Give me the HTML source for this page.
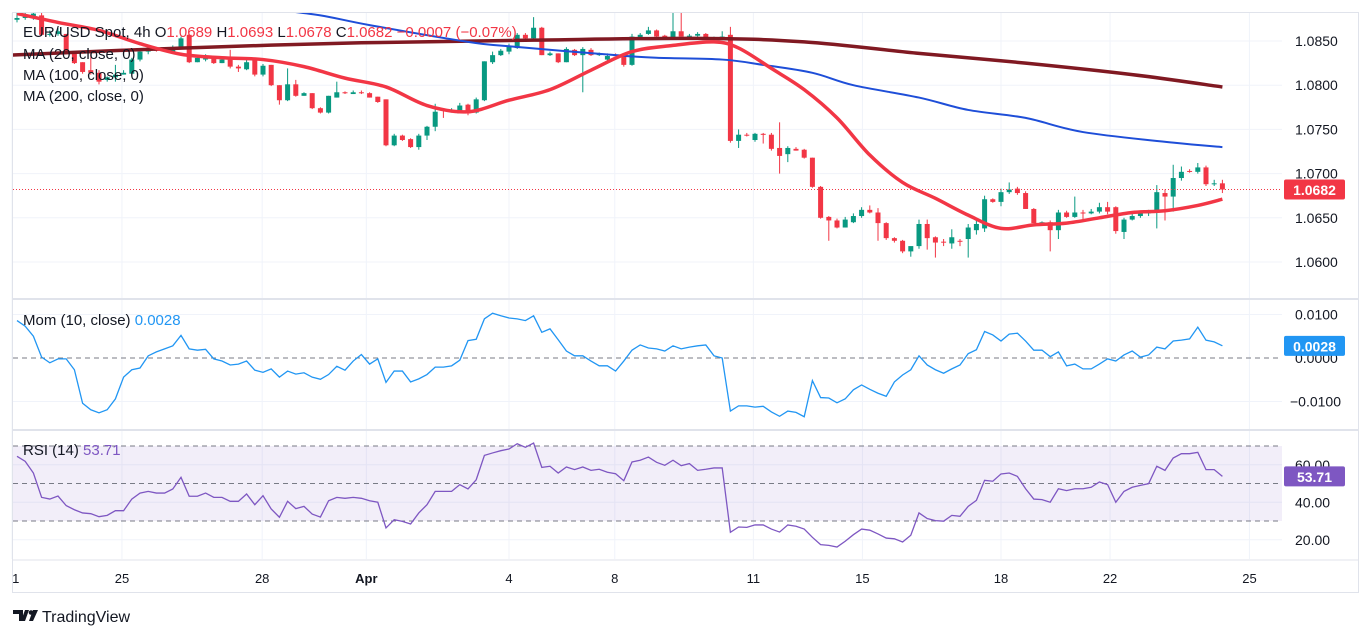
<!DOCTYPE html>
<html><head><meta charset="utf-8"><title>EUR/USD 4h chart</title>
<style>
html,body{margin:0;padding:0;background:#fff;}
body{width:1372px;height:638px;overflow:hidden;font-family:"Liberation Sans",sans-serif;}
svg text{font-family:"Liberation Sans",sans-serif;}
</style></head>
<body>
<svg id="chart" width="1372" height="638" viewBox="0 0 1372 638" xmlns="http://www.w3.org/2000/svg">
<defs>
<clipPath id="clipMain"><rect x="13" y="13" width="1269" height="285"/></clipPath>
<clipPath id="clipMom"><rect x="13" y="300" width="1269" height="129"/></clipPath>
<clipPath id="clipRsi"><rect x="13" y="431" width="1269" height="128"/></clipPath>
<clipPath id="clipAxis"><rect x="13" y="560" width="1269" height="32"/></clipPath>
</defs>
<g id="grid"></g>
<g id="frame">
<rect x="12.5" y="12.5" width="1346" height="580" fill="none" stroke="#e0e3eb"/>
<line x1="12" y1="299" x2="1359" y2="299" stroke="#e0e3eb" stroke-width="2"/>
<line x1="12" y1="430" x2="1359" y2="430" stroke="#e0e3eb" stroke-width="2"/>
<line x1="12" y1="560" x2="1359" y2="560" stroke="#e0e3eb"/>
</g>
<g id="mainPane" clip-path="url(#clipMain)"></g>
<g id="momPane" clip-path="url(#clipMom)"></g>
<g id="rsiPane" clip-path="url(#clipRsi)"></g>
<g id="xAxis" clip-path="url(#clipAxis)"></g>
<g id="yAxes"></g>
<g font-size="15" fill="#131722">
<text x="23" y="37">EUR/USD Spot, 4h  O<tspan fill="#f23645">1.0689</tspan>  H<tspan fill="#f23645">1.0693</tspan>  L<tspan fill="#f23645">1.0678</tspan>  C<tspan fill="#f23645">1.0682</tspan>  <tspan fill="#f23645">−0.0007 (−0.07%)</tspan></text>
<text x="23" y="59">MA (20, close, 0)</text>
<text x="23" y="80">MA (100, close, 0)</text>
<text x="23" y="101">MA (200, close, 0)</text>
<text x="23" y="325">Mom (10, close)  <tspan fill="#2196f3">0.0028</tspan></text>
<text x="23" y="455">RSI (14)  <tspan fill="#7e57c2">53.71</tspan></text>
</g>
<g>
<path d="M13 610h10v11h-4v-7h-6z M25 610h4l-4 11h-4z" fill="#131722"/>
<circle cx="31" cy="612.5" r="2.3" fill="#131722"/>
<path d="M33 610h5l-5 11h-4z" fill="#131722"/>
<text x="42" y="622" font-size="16" fill="#131722">TradingView</text>
</g>
</svg>
<script>
const barOpen=[1.0874,1.0876,1.0878,1.0879,1.0857,1.0858,1.0858,1.0838,1.0826,1.0817,1.0814,1.0806,1.0809,1.0812,1.0813,1.0829,1.0838,1.0840,1.0840,1.0836,1.0842,1.0857,1.0826,1.0829,1.0833,1.0825,1.0829,1.0821,1.0818,1.0829,1.0812,1.0823,1.0800,1.0783,1.0801,1.0788,1.0791,1.0774,1.0769,1.0786,1.0792,1.0790,1.0792,1.0791,1.0787,1.0784,1.0732,1.0743,1.0739,1.0730,1.0743,1.0753,1.0772,1.0771,1.0768,1.0778,1.0769,1.0783,1.0826,1.0834,1.0838,1.0842,1.0857,1.0853,1.0865,1.0834,1.0836,1.0826,1.0840,1.0834,1.0840,1.0834,1.0829,1.0834,1.0834,1.0823,1.0853,1.0858,1.0862,1.0856,1.0852,1.0861,1.0855,1.0856,1.0858,1.0852,1.0853,1.0857,1.0737,1.0744,1.0738,1.0745,1.0744,1.0729,1.0722,1.0728,1.0727,1.0718,1.0685,1.0651,1.0647,1.0639,1.0645,1.0652,1.0659,1.0656,1.0644,1.0627,1.0624,1.0612,1.0618,1.0643,1.0628,1.0623,1.0621,1.0624,1.0626,1.0636,1.0638,1.0671,1.0668,1.0679,1.0683,1.0678,1.0660,1.0644,1.0645,1.0636,1.0656,1.0651,1.0656,1.0655,1.0657,1.0662,1.0662,1.0634,1.0648,1.0652,1.0655,1.0656,1.0678,1.0674,1.0695,1.0703,1.0702,1.0707,1.0688,1.0689];
const barHigh=[1.0883,1.0882,1.0883,1.0883,1.0862,1.0865,1.0858,1.0838,1.0826,1.0836,1.0817,1.0810,1.0823,1.0817,1.0831,1.0840,1.0842,1.0841,1.0842,1.0845,1.0855,1.0858,1.0833,1.0835,1.0833,1.0833,1.0840,1.0823,1.0829,1.0829,1.0824,1.0823,1.0800,1.0819,1.0806,1.0792,1.0791,1.0775,1.0788,1.0804,1.0793,1.0794,1.0794,1.0792,1.0787,1.0784,1.0745,1.0744,1.0740,1.0745,1.0754,1.0779,1.0774,1.0774,1.0780,1.0779,1.0786,1.0827,1.0838,1.0841,1.0847,1.0859,1.0859,1.0877,1.0866,1.0838,1.0836,1.0843,1.0841,1.0843,1.0842,1.0837,1.0836,1.0836,1.0835,1.0858,1.0859,1.0866,1.0863,1.0857,1.0882,1.0882,1.0858,1.0860,1.0859,1.0855,1.0861,1.0866,1.0750,1.0746,1.0746,1.0746,1.0746,1.0758,1.0731,1.0730,1.0728,1.0718,1.0686,1.0652,1.0649,1.0651,1.0655,1.0662,1.0664,1.0661,1.0645,1.0628,1.0625,1.0616,1.0648,1.0648,1.0629,1.0626,1.0637,1.0626,1.0643,1.0650,1.0675,1.0672,1.0683,1.0690,1.0685,1.0680,1.0661,1.0646,1.0647,1.0659,1.0658,1.0674,1.0659,1.0660,1.0667,1.0668,1.0663,1.0650,1.0656,1.0658,1.0659,1.0687,1.0682,1.0710,1.0708,1.0705,1.0712,1.0709,1.0693,1.0693];
const barLow=[1.0871,1.0874,1.0874,1.0856,1.0855,1.0856,1.0835,1.0824,1.0813,1.0812,1.0801,1.0804,1.0804,1.0812,1.0813,1.0827,1.0835,1.0838,1.0838,1.0836,1.0842,1.0825,1.0826,1.0827,1.0824,1.0825,1.0819,1.0815,1.0817,1.0810,1.0810,1.0799,1.0778,1.0782,1.0787,1.0788,1.0773,1.0768,1.0768,1.0786,1.0790,1.0790,1.0790,1.0786,1.0780,1.0731,1.0731,1.0737,1.0729,1.0727,1.0738,1.0748,1.0763,1.0769,1.0768,1.0766,1.0768,1.0782,1.0824,1.0833,1.0835,1.0841,1.0852,1.0852,1.0834,1.0833,1.0825,1.0826,1.0833,1.0792,1.0833,1.0833,1.0826,1.0833,1.0821,1.0822,1.0852,1.0857,1.0854,1.0852,1.0852,1.0855,1.0852,1.0855,1.0853,1.0851,1.0852,1.0735,1.0729,1.0742,1.0736,1.0734,1.0726,1.0700,1.0713,1.0726,1.0717,1.0684,1.0649,1.0624,1.0638,1.0639,1.0644,1.0650,1.0655,1.0624,1.0625,1.0622,1.0610,1.0606,1.0615,1.0614,1.0605,1.0618,1.0615,1.0618,1.0605,1.0631,1.0634,1.0667,1.0663,1.0677,1.0676,1.0660,1.0644,1.0642,1.0612,1.0626,1.0650,1.0650,1.0646,1.0654,1.0655,1.0654,1.0632,1.0626,1.0647,1.0650,1.0652,1.0638,1.0647,1.0657,1.0692,1.0701,1.0700,1.0686,1.0686,1.0678];
const barClose=[1.0876,1.0878,1.0881,1.0857,1.0858,1.0861,1.0838,1.0825,1.0815,1.0814,1.0804,1.0809,1.0812,1.0814,1.0829,1.0838,1.0840,1.0839,1.0839,1.0843,1.0853,1.0826,1.0831,1.0833,1.0825,1.0829,1.0821,1.0819,1.0826,1.0812,1.0822,1.0800,1.0783,1.0801,1.0788,1.0791,1.0774,1.0769,1.0788,1.0792,1.0791,1.0792,1.0791,1.0786,1.0781,1.0732,1.0743,1.0738,1.0730,1.0743,1.0753,1.0770,1.0771,1.0772,1.0777,1.0768,1.0784,1.0827,1.0834,1.0839,1.0844,1.0857,1.0853,1.0865,1.0834,1.0836,1.0826,1.0841,1.0834,1.0841,1.0834,1.0836,1.0833,1.0833,1.0823,1.0855,1.0857,1.0862,1.0855,1.0852,1.0861,1.0855,1.0856,1.0858,1.0853,1.0853,1.0855,1.0737,1.0744,1.0743,1.0745,1.0744,1.0728,1.0720,1.0729,1.0726,1.0718,1.0685,1.0650,1.0647,1.0639,1.0648,1.0652,1.0659,1.0656,1.0644,1.0627,1.0624,1.0612,1.0618,1.0643,1.0627,1.0622,1.0622,1.0628,1.0623,1.0639,1.0643,1.0671,1.0668,1.0679,1.0682,1.0678,1.0660,1.0644,1.0645,1.0636,1.0656,1.0651,1.0656,1.0655,1.0657,1.0662,1.0657,1.0635,1.0648,1.0652,1.0656,1.0658,1.0679,1.0674,1.0695,1.0702,1.0702,1.0707,1.0688,1.0689,1.0682];

const ma20Idx=[0,5,10,15,20,25,30,35,40,45,50,55,60,65,70,75,80,85,88,92,96,100,104,108,112,116,120,124,128,132,136,140,144,147];
const ma20Vals=[1.0881,1.0871,1.0862,1.0847,1.0835,1.0831,1.0829,1.0821,1.0808,1.0798,1.0777,1.0770,1.0783,1.0795,1.0817,1.0838,1.0845,1.0849,1.0842,1.0819,1.0795,1.0763,1.0721,1.0690,1.0672,1.0653,1.0638,1.0642,1.0644,1.0650,1.0656,1.0658,1.0664,1.0671];
const ma100Idx=[31,37,43,55,60,73,78,86,91,97,102,110,116,123,130,141,147];
const ma100Vals=[1.0886,1.0879,1.0868,1.0849,1.0844,1.0834,1.0831,1.0829,1.0823,1.0814,1.0800,1.0786,1.0772,1.0763,1.0747,1.0735,1.0730];
const ma200Idx=[-1,20,42,63,83,96,110,123,136,147];
const ma200Vals=[1.0834,1.0842,1.0848,1.0851,1.0853,1.0849,1.0836,1.0825,1.0812,1.0798];

const momVals=[0.0086,0.0073,0.0050,0.0002,-0.0011,-0.0002,-0.0002,-0.0027,-0.0104,-0.0119,-0.0126,-0.0119,-0.0094,-0.0044,-0.0027,-0.0023,0.0005,0.0014,0.0021,0.0028,0.0052,0.0021,0.0018,0.0020,-0.0002,-0.0007,-0.0016,-0.0014,-0.0007,-0.0028,-0.0033,-0.0025,-0.0044,-0.0030,-0.0037,-0.0034,-0.0044,-0.0049,-0.0038,-0.0019,-0.0028,-0.0007,0.0008,-0.0014,-0.0002,-0.0056,-0.0030,-0.0030,-0.0055,-0.0048,-0.0038,-0.0021,-0.0021,-0.0018,-0.0005,0.0040,0.0043,0.0090,0.0103,0.0097,0.0092,0.0090,0.0086,0.0097,0.0059,0.0067,0.0042,0.0016,0.0005,0.0005,-0.0007,-0.0018,-0.0018,-0.0030,-0.0007,0.0018,0.0030,0.0023,0.0021,0.0016,0.0028,0.0021,0.0025,0.0028,0.0030,0.0005,0.0000,-0.0122,-0.0110,-0.0110,-0.0113,-0.0111,-0.0124,-0.0134,-0.0122,-0.0125,-0.0135,-0.0052,-0.0091,-0.0092,-0.0103,-0.0094,-0.0073,-0.0062,-0.0072,-0.0081,-0.0088,-0.0055,-0.0039,-0.0027,0.0005,-0.0016,-0.0027,-0.0035,-0.0025,-0.0016,0.0010,0.0019,0.0061,0.0053,0.0039,0.0055,0.0057,0.0039,0.0018,0.0018,0.0003,0.0014,-0.0018,-0.0014,-0.0025,-0.0025,-0.0014,-0.0002,-0.0007,0.0007,0.0016,0.0002,0.0007,0.0025,0.0021,0.0039,0.0041,0.0044,0.0071,0.0041,0.0037,0.0028];
const rsiVals=[64.5,61.8,55.6,42.6,41.7,43.3,38.2,36.0,34.3,33.9,32.3,33.0,35.5,35.5,41.7,44.9,45.8,44.9,44.9,47.1,53.3,43.2,43.2,44.9,42.6,42.6,40.5,40.5,44.4,38.7,43.5,36.4,32.0,40.5,36.6,37.8,33.7,32.1,40.8,42.6,42.1,42.6,42.1,40.8,40.0,26.3,30.7,29.8,28.4,34.3,38.7,45.8,45.8,45.8,49.4,47.1,52.0,65.0,66.3,67.5,68.4,71.2,69.3,71.6,58.6,59.2,55.6,58.8,57.4,58.8,57.0,57.6,56.0,55.2,51.5,61.5,62.4,64.1,61.3,59.7,62.4,59.5,60.6,57.0,57.6,58.3,58.3,24.0,26.8,26.6,27.9,27.9,25.7,24.1,27.9,27.2,25.7,21.3,17.4,17.0,16.1,19.2,22.7,25.7,25.1,23.1,20.9,20.5,18.8,22.4,34.3,31.3,30.2,29.9,33.0,32.5,37.8,41.0,51.7,51.2,55.1,55.6,53.8,47.2,41.7,41.4,40.0,47.2,46.2,47.2,47.2,48.0,50.8,49.4,40.0,45.8,48.0,49.0,49.9,59.2,57.0,63.6,65.9,65.9,66.6,57.4,57.4,53.8];

const priceTicks=[1.0850,1.0800,1.0750,1.0700,1.0650,1.0600];
const momTicks=[0.0100,0.0000,-0.0100];
const rsiTicks=[60,40,20];
const rsiBands=[70,50,30];
const dateLabels=["21","25","28","Apr","4","8","11","15","18","22","25"];
const dateIdx=[-0.6,12.8,29.9,42.6,60,72.9,89.8,103.1,120,133.3,150.3];
const lastPrice=1.0682;

const NS="http://www.w3.org/2000/svg";
function xOf(i){return 17+i*8.2;}
function yP(p){return 41+(1.085-p)/0.005*44.2;}
function yM(v){return 358-v*4350;}
function yR(v){return 446+(70-v)*1.875;}
function mk(tag,attrs,parent){const e=document.createElementNS(NS,tag);for(const k in attrs)e.setAttribute(k,attrs[k]);parent.appendChild(e);return e;}

const grid=document.getElementById('grid');
const main=document.getElementById('mainPane');
const mom=document.getElementById('momPane');
const rsi=document.getElementById('rsiPane');
const xAxis=document.getElementById('xAxis');
const yAxes=document.getElementById('yAxes');

dateIdx.forEach((d,k)=>{
  const x=xOf(d);
  const l=mk('line',{x1:x,y1:13,x2:x,y2:559,stroke:'#f0f3fa'},grid);
  
  
  const t=mk('text',{x:x,y:583,'text-anchor':'middle','font-size':'13',fill:'#131722','font-weight':dateLabels[k]==='Apr'?'bold':'normal'},xAxis);
  t.textContent=dateLabels[k];
  
  
});
priceTicks.forEach(p=>{
  const y=yP(p);
  const l=mk('line',{x1:13,y1:y,x2:1282,y2:y,stroke:'#f0f3fa'},grid);
  
  
  const t=mk('text',{x:1295,y:y+5,'font-size':'14',fill:'#131722'},yAxes);
  t.textContent=p.toFixed(4);
  
  
});
momTicks.forEach(v=>{
  const y=yM(v);
  if(v!==0){const l=mk('line',{x1:13,y1:y,x2:1282,y2:y,stroke:'#f0f3fa'},grid);
  
  }
  const t=mk('text',{x:v<0?1290:1295,y:y+5,'font-size':'14',fill:'#131722'},yAxes);
  t.textContent=(v<0?'−':'')+Math.abs(v).toFixed(4);
  
  
});
rsiTicks.forEach(v=>{
  const y=yR(v);
  const l=mk('line',{x1:13,y1:y,x2:1282,y2:y,stroke:'#f0f3fa'},grid);
  
  
  const t=mk('text',{x:1295,y:y+5,'font-size':'14',fill:'#131722'},yAxes);
  t.textContent=v.toFixed(2);
  
  
});

const band=mk('rect',{x:13,y:yR(rsiBands[0]),width:1269,height:yR(rsiBands[2])-yR(rsiBands[0]),fill:'rgba(126,87,194,0.1)'},rsi);


rsiBands.forEach(v=>{
  const l=mk('line',{x1:13,y1:yR(v),x2:1282,y2:yR(v),stroke:'#787b86','stroke-dasharray':'5,4'},rsi);
  
  
});
const mz=mk('line',{x1:13,y1:yM(0),x2:1282,y2:yM(0),stroke:'#787b86','stroke-dasharray':'5,4'},mom);



barClose.forEach((c,i)=>{
  const o=barOpen[i],h=barHigh[i],l=barLow[i];
  const up=c>=o;const col=up?'#089981':'#f23645';
  const x=xOf(i);
  const g=mk('g',{},main);
  
  
  mk('line',{x1:x,y1:yP(h),x2:x,y2:yP(l),stroke:col,'stroke-width':1},g);
  const top=yP(Math.max(o,c)),bot=yP(Math.min(o,c));
  mk('rect',{x:x-2.5,y:top,width:5,height:Math.max(1,bot-top),fill:col},g);
});

function smoothPath(idx,vals,yf){
  const pts=idx.map((d,k)=>[xOf(d),yf(vals[k])]);
  let d='M'+pts[0][0]+','+pts[0][1];
  for(let k=0;k<pts.length-1;k++){
    const p0=pts[k-1]||pts[k],p1=pts[k],p2=pts[k+1],p3=pts[k+2]||p2;
    const c1x=p1[0]+(p2[0]-p0[0])/6,c1y=p1[1]+(p2[1]-p0[1])/6;
    const c2x=p2[0]-(p3[0]-p1[0])/6,c2y=p2[1]-(p3[1]-p1[1])/6;
    d+=' C'+c1x+','+c1y+' '+c2x+','+c2y+' '+p2[0]+','+p2[1];
  }
  return d;
}
const m200=mk('path',{d:smoothPath(ma200Idx,ma200Vals,yP),fill:'none',stroke:'#801922','stroke-width':3.5},main);


const m100=mk('path',{d:smoothPath(ma100Idx,ma100Vals,yP),fill:'none',stroke:'#1e4ed8','stroke-width':2},main);


const m20=mk('path',{d:smoothPath(ma20Idx,ma20Vals,yP),fill:'none',stroke:'#f23645','stroke-width':3.5},main);



const lp=mk('line',{x1:13,y1:yP(lastPrice),x2:1282,y2:yP(lastPrice),stroke:'#f23645','stroke-dasharray':'1,2'},main);



function linePath(vals,yf){return vals.map((v,i)=>(i?'L':'M')+xOf(i)+','+yf(v)).join(' ');}
const ml=mk('path',{d:linePath(momVals,yM),fill:'none',stroke:'#2196f3','stroke-width':1.3},mom);


const rl=mk('path',{d:linePath(rsiVals,yR),fill:'none',stroke:'#7e57c2','stroke-width':1.3},rsi);



function badge(y,txt,col,name){
  const g=mk('g',{},yAxes);
  
  
  mk('rect',{x:1284,y:y-10,width:61,height:20,rx:2,fill:col},g);
  const t=mk('text',{x:1314.5,y:y+5.5,'text-anchor':'middle','font-size':'14','font-weight':'bold',fill:'#fff'},g);
  t.textContent=txt;
}
badge(yP(lastPrice),lastPrice.toFixed(4),'#f23645','last-price-label');
badge(yM(momVals[momVals.length-1]),momVals[momVals.length-1].toFixed(4),'#2196f3','momentum-value-label');
badge(yR(rsiVals[rsiVals.length-1]),'53.71','#7e57c2','rsi-value-label');
</script>
</body></html>
